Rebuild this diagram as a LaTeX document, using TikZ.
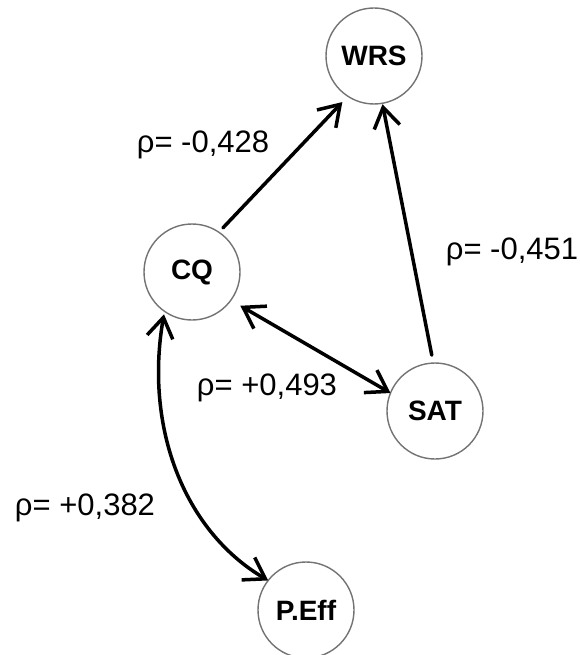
\documentclass[tikz,border=0pt]{standalone}
\usepackage{fontspec}
\setmainfont{Liberation Sans}
\usetikzlibrary{arrows.meta}
\begin{document}
\begin{tikzpicture}[x=1pt,y=-1pt,
  var/.style={circle,draw=black!55,line width=1.4pt,minimum size=96pt,inner sep=0pt,outer sep=0pt,
    font=\fontsize{28}{32}\selectfont\bfseries},
  lbl/.style={font=\fontsize{31}{35}\selectfont,inner sep=0pt},
  barb/.tip={Straight Barb[length=20pt,width=26pt,line width=3.5pt]},
  conn/.style={line width=3.5pt,line cap=round}
]
\useasboundingbox (0,0) rectangle (579,655);

\node[var] (wrs) at (374,56) {WRS};
\node[var] (cq) at (192,272) {CQ};
\node[var] (sat) at (435,411) {SAT};
\node[var] (peff) at (306,610) {P.Eff};

\draw[conn,-barb,shorten <=6pt,shorten >=8pt] (cq.56) -- (wrs.237);
\draw[conn,-barb,shorten <=8pt,shorten >=1pt] (sat.92) -- (wrs.280);
\draw[conn,barb-barb,shorten <=11pt] (cq.-36) -- (sat.158);
\draw[conn,barb-barb,shorten <=3pt] (cq.235) .. controls +(-20,115) and +(-85,-50) .. (peff.142);

\node[lbl] (l1) at (203,145) {ρ= -0,428};
\node[lbl] (l2) at (512,252) {ρ= -0,451};
\node[lbl] (l3) at (267,388) {ρ= +0,493};
\node[lbl] (l4) at (85,508) {ρ= +0,382};
\end{tikzpicture}
\end{document}
